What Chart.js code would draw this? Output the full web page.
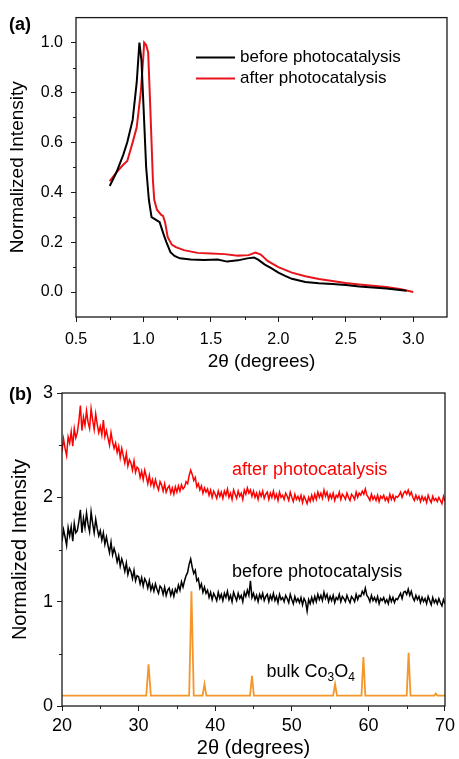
<!DOCTYPE html>
<html><head><meta charset="utf-8">
<script src="https://cdn.jsdelivr.net/npm/chart.js@4.4.1/dist/chart.umd.min.js"></script>
<style>
html,body{margin:0;padding:0;background:#fff;}
canvas{display:block;}
</style></head><body>
<canvas id="ca" width="459" height="378"></canvas>
<canvas id="cb" width="459" height="381"></canvas>
<script>
// ---------- Panel (a) data ----------
const aBeforeX = [0.75,0.80,0.85,0.88,0.92,0.95,0.97,0.985,1.00,1.02,1.04,1.06,1.09,1.12,1.15,1.17,1.20,1.23,1.27,1.35,1.45,1.55,1.62,1.70,1.77,1.82,1.85,1.90,1.95,2.00,2.05,2.10,2.20,2.30,2.40,2.50,2.60,2.70,2.80,2.90,2.95];
const aBeforeY = [0.425,0.48,0.55,0.60,0.69,0.84,1.00,0.93,0.75,0.50,0.37,0.30,0.29,0.28,0.23,0.20,0.16,0.145,0.135,0.13,0.128,0.13,0.122,0.127,0.135,0.138,0.13,0.11,0.095,0.078,0.065,0.053,0.04,0.035,0.032,0.028,0.022,0.018,0.014,0.008,0.005];
const aAfterX = [0.75,0.80,0.85,0.88,0.92,0.95,0.98,1.00,1.005,1.02,1.035,1.05,1.07,1.08,1.10,1.13,1.145,1.16,1.18,1.21,1.24,1.30,1.40,1.50,1.60,1.70,1.78,1.83,1.87,1.92,2.00,2.10,2.20,2.30,2.40,2.50,2.60,2.70,2.80,2.90,3.00];
const aAfterY = [0.445,0.48,0.51,0.525,0.60,0.66,0.80,0.95,1.00,0.99,0.96,0.75,0.45,0.37,0.33,0.31,0.305,0.28,0.22,0.19,0.18,0.168,0.157,0.155,0.152,0.146,0.148,0.158,0.15,0.125,0.10,0.078,0.063,0.052,0.044,0.036,0.03,0.025,0.02,0.012,0.0];
const aXTicks = [0.5,1.0,1.5,2.0,2.5,3.0];
const aXTickLabels = ['0.5','1.0','1.5','2.0','2.5','3.0'];
const aXMinor = [0.75,1.25,1.75,2.25,2.75];
const aYTicks = [0.0,0.2,0.4,0.6,0.8,1.0];
const aYTickLabels = ['0.0','0.2','0.4','0.6','0.8','1.0'];
const aYMinor = [0.1,0.3,0.5,0.7,0.9];

// ---------- Panel (b) data ----------
const bStart = 20, bStep = 0.2;   // sampling grid of the measured patterns (20.0 ... 70.0)
const bAfter = [
2.44,2.56,2.47,2.40,2.58, 2.52,2.63,2.49,2.66,2.57, 2.62,2.73,2.88,2.64,2.77, 2.69,2.83,2.72,2.66,2.85,
2.74,2.65,2.80,2.70,2.62, 2.68,2.60,2.74,2.58,2.64, 2.57,2.50,2.62,2.53,2.47, 2.52,2.43,2.49,2.38,2.47,
2.40,2.33,2.42,2.30,2.36, 2.33,2.26,2.35,2.24,2.29, 2.27,2.19,2.25,2.17,2.26, 2.20,2.13,2.21,2.12,2.17,
2.10,2.17,2.11,2.07,2.15, 2.12,2.06,2.13,2.05,2.09, 2.11,2.04,2.09,2.03,2.10, 2.05,2.11,2.06,2.12,2.08,
2.10,2.15,2.13,2.21,2.26, 2.22,2.16,2.19,2.10,2.13, 2.07,2.11,2.04,2.09,2.05, 2.08,2.02,2.07,2.00,2.06,
2.03,1.99,2.06,2.01,2.05, 1.99,2.06,2.02,2.08,2.00, 2.04,1.98,2.07,2.03,1.99, 2.06,2.01,2.04,1.98,2.07,
2.03,2.09,2.04,2.07,2.01, 2.06,2.00,2.04,1.98,2.05, 2.01,2.06,1.99,2.03,2.05, 1.98,2.04,2.00,2.06,1.99,
2.03,1.97,2.05,2.00,2.02, 1.98,2.04,2.01,1.97,2.05, 2.00,1.96,2.03,1.98,2.01, 1.97,2.02,1.95,2.01,1.98,
1.94,2.00,1.96,2.02,1.97, 2.03,1.98,2.05,2.00,2.04, 1.99,2.07,2.01,2.05,1.98, 2.03,1.99,2.04,1.97,2.02,
2.00,2.05,1.98,2.03,2.01, 1.98,2.04,2.00,1.97,2.03, 2.01,1.98,2.05,2.00,2.04, 2.02,2.06,2.03,2.08,2.02,
2.00,1.97,2.03,1.98,2.01, 1.97,2.02,1.96,2.01,1.99, 2.02,1.97,2.00,1.96,2.03, 1.98,2.02,1.97,2.01,2.00,
2.02,2.05,2.00,2.04,2.06, 2.03,2.07,2.02,2.05,2.00, 1.97,2.02,1.98,2.01,1.96, 2.01,1.97,2.00,1.95,2.02,
1.98,1.95,2.01,1.97,1.99, 1.96,2.00,1.97,1.94,2.01, 1.96];
const bBefore = [
1.58,1.69,1.62,1.54,1.71, 1.63,1.72,1.58,1.75,1.66, 1.68,1.77,1.88,1.66,1.80, 1.71,1.85,1.74,1.67,1.86,
1.75,1.66,1.79,1.70,1.63, 1.68,1.59,1.66,1.55,1.62, 1.54,1.47,1.57,1.45,1.51, 1.46,1.38,1.44,1.34,1.41,
1.36,1.29,1.37,1.26,1.32, 1.29,1.22,1.30,1.20,1.25, 1.24,1.17,1.23,1.15,1.22, 1.19,1.13,1.20,1.11,1.16,
1.10,1.17,1.12,1.08,1.15, 1.13,1.07,1.14,1.06,1.11, 1.13,1.06,1.11,1.05,1.12, 1.09,1.16,1.11,1.19,1.14,
1.20,1.25,1.28,1.36,1.41, 1.33,1.27,1.30,1.20,1.22, 1.13,1.17,1.09,1.14,1.08, 1.11,1.04,1.09,1.02,1.08,
1.05,1.01,1.09,1.03,1.07, 1.01,1.08,1.04,1.10,1.02, 1.06,1.00,1.09,1.05,1.01, 1.08,1.03,1.06,1.00,1.09,
1.05,1.11,1.06,1.20,1.04, 1.08,1.02,1.06,1.00,1.07, 1.03,1.08,1.01,1.05,1.07, 1.00,1.06,1.02,1.08,1.01,
1.05,0.99,1.07,1.02,1.04, 1.00,1.06,1.03,0.99,1.07, 1.02,0.98,1.05,1.00,1.03, 0.99,1.04,0.97,1.03,1.00,
0.91,1.02,0.98,1.04,0.99, 1.05,1.00,1.07,1.02,1.06, 1.01,1.09,1.03,1.07,1.00, 1.05,1.01,1.06,0.99,1.04,
1.02,1.07,1.00,1.05,1.03, 1.00,1.06,1.02,0.99,1.05, 1.03,1.00,1.07,1.02,1.06, 1.05,1.10,1.07,1.13,1.06,
1.04,1.00,1.06,1.01,1.04, 1.00,1.05,0.98,1.03,1.01, 1.04,0.99,1.02,0.98,1.05, 1.00,1.04,0.99,1.03,1.02,
1.05,1.08,1.03,1.09,1.10, 1.07,1.12,1.06,1.10,1.04, 1.01,1.06,1.02,1.05,0.99, 1.04,1.00,1.03,0.98,1.05,
1.01,0.97,1.04,0.99,1.02, 0.98,1.03,0.99,0.96,1.02, 0.98];
const bulkX = [20,31.0,31.3,31.6,36.6,36.9,37.2,38.35,38.6,38.85,44.55,44.8,45.05,55.4,55.65,55.9,59.1,59.35,59.6,65.0,65.25,65.5,68.6,68.8,69.0,70];
const bulkY = [0.1,0.1,0.4,0.1,0.1,1.1,0.1,0.1,0.21,0.1,0.1,0.29,0.1,0.1,0.21,0.1,0.1,0.47,0.1,0.1,0.51,0.1,0.1,0.12,0.1,0.1];
const bXTicks = [20,30,40,50,60,70];
const bXTickLabels = ['20','30','40','50','60','70'];
const bXMinor = [25,35,45,55,65];
const bYTicks = [0,1,2,3];
const bYTickLabels = ['0','1','2','3'];
const bYMinor = [0.5,1.5,2.5];

const FONT = "'Liberation Sans', Arial, Helvetica, sans-serif";
const pairs = (xs, ys) => xs.map((x, i) => ({x, y: ys[i]}));
const grid = (x0, step, n) => { const a = []; for (let i = 0; i < n; i++) a.push(Math.round((x0 + i * step) * 100) / 100); return a; };

const framePlugin = {
  id: 'frame',
  afterDraw(chart, args, o) {
    const {ctx, chartArea: a} = chart;
    const xs = chart.scales.x, ys = chart.scales.y;
    ctx.save();
    ctx.strokeStyle = '#1a1a1a';
    ctx.lineWidth = 1.3;
    ctx.strokeRect(a.left, a.top, a.right - a.left, a.bottom - a.top);
    ctx.lineWidth = 1;
    (o.xMinor || []).forEach(v => { const p = Math.round(xs.getPixelForValue(v)) + 0.5; ctx.beginPath(); ctx.moveTo(p, a.bottom); ctx.lineTo(p, a.bottom + 3); ctx.stroke(); });
    (o.yMinor || []).forEach(v => { const p = Math.round(ys.getPixelForValue(v)) + 0.5; ctx.beginPath(); ctx.moveTo(a.left, p); ctx.lineTo(a.left - 3, p); ctx.stroke(); });
    ctx.fillStyle = '#000';
    ctx.font = 'bold 18px ' + FONT;
    ctx.textBaseline = 'middle';
    ctx.textAlign = 'left';
    ctx.fillText(o.panel, 9, o.panelY);
    (o.legend || []).forEach(l => {
      ctx.strokeStyle = l.color; ctx.lineWidth = 2;
      ctx.beginPath(); ctx.moveTo(a.left + l.dx, a.top + l.dy); ctx.lineTo(a.left + l.dx + 39, a.top + l.dy); ctx.stroke();
      ctx.fillStyle = '#000'; ctx.font = '17px ' + FONT;
      ctx.fillText(l.text, a.left + l.dx + 44, a.top + l.dy);
    });
    (o.labels || []).forEach(l => {
      let x = xs.getPixelForValue(l.x), y = ys.getPixelForValue(l.y);
      ctx.fillStyle = l.color;
      l.parts.forEach(p => {
        ctx.font = (p.sub ? '12px ' : '18px ') + FONT;
        ctx.fillText(p.t, x, y + (p.sub ? 6 : 0));
        x += ctx.measureText(p.t).width;
      });
    });
    ctx.restore();
  }
};

function axisCommon(ticks, labels, size, pad) {
  return {
    afterBuildTicks: s => { s.ticks = ticks.map(v => ({value: v})); },
    ticks: { callback: (v, i) => labels[i], font: {family: FONT, size: size}, color: '#000', padding: pad, maxRotation: 0, autoSkip: false },
    grid: { drawOnChartArea: false, drawTicks: true, tickLength: 5, tickColor: '#1a1a1a', tickWidth: 1 },
    border: { display: false }
  };
}

// ---------- Chart (a) ----------
new Chart(document.getElementById('ca'), {
  type: 'line',
  data: { datasets: [
    { label: 'before photocatalysis', data: pairs(aBeforeX, aBeforeY), borderColor: '#000', borderWidth: 2, pointRadius: 0, tension: 0 },
    { label: 'after photocatalysis', data: pairs(aAfterX, aAfterY), borderColor: '#e8141b', borderWidth: 2, pointRadius: 0, tension: 0 }
  ]},
  options: {
    responsive: false, animation: false, devicePixelRatio: 1,
    layout: { padding: { top: 17, right: 12, left: 0, bottom: 0 } },
    plugins: { legend: { display: false }, tooltip: { enabled: false },
      frame: { panel: '(a)', panelY: 25, xMinor: aXMinor, yMinor: aYMinor,
        legend: [ { text: 'before photocatalysis', color: '#000', dx: 120, dy: 40 },
                  { text: 'after photocatalysis', color: '#e8141b', dx: 120, dy: 61 } ] } },
    scales: {
      x: Object.assign(axisCommon(aXTicks, aXTickLabels, 16, 8), { type: 'linear', min: 0.5, max: 3.25,
        afterFit: s => { s.height = 61; },
        title: { display: true, text: '2θ (degrees)', font: {family: FONT, size: 19, lineHeight: 1}, color: '#000', padding: {top: 0, bottom: 6.5} } }),
      y: Object.assign(axisCommon(aYTicks, aYTickLabels, 16, 8), { type: 'linear', min: -0.1, max: 1.1,
        afterFit: s => { s.width = 76; },
        title: { display: true, text: 'Normalized Intensity', font: {family: FONT, size: 19, lineHeight: 1}, color: '#000', padding: {top: 8.5, bottom: 0} } })
    }
  },
  plugins: [framePlugin]
});

// ---------- Chart (b) ----------
const bX = grid(bStart, bStep, bAfter.length);
new Chart(document.getElementById('cb'), {
  type: 'line',
  data: { datasets: [
    { label: 'after photocatalysis', data: pairs(bX, bAfter), borderColor: '#ff0000', borderWidth: 1.5, pointRadius: 0, tension: 0 },
    { label: 'before photocatalysis', data: pairs(bX, bBefore), borderColor: '#000', borderWidth: 1.5, pointRadius: 0, tension: 0 },
    { label: 'bulk Co3O4', data: pairs(bulkX, bulkY), borderColor: '#f5962a', borderWidth: 1.8, pointRadius: 0, tension: 0 }
  ]},
  options: {
    responsive: false, animation: false, devicePixelRatio: 1,
    layout: { padding: { top: 15, right: 11, left: 0, bottom: 0 } },
    plugins: { legend: { display: false }, tooltip: { enabled: false },
      frame: { panel: '(b)', panelY: 17, xMinor: bXMinor, yMinor: bYMinor,
        labels: [
          { x: 42.2, y: 2.26, color: '#ff0000', parts: [{t: 'after photocatalysis'}] },
          { x: 42.2, y: 1.28, color: '#000', parts: [{t: 'before photocatalysis'}] },
          { x: 46.7, y: 0.33, color: '#000', parts: [{t: 'bulk Co'}, {t: '3', sub: true}, {t: 'O'}, {t: '4', sub: true}] }
        ] } },
    scales: {
      x: Object.assign(axisCommon(bXTicks, bXTickLabels, 18, 4), { type: 'linear', min: 20, max: 70,
        afterFit: s => { s.height = 53; },
        title: { display: true, text: '2θ (degrees)', font: {family: FONT, size: 20, lineHeight: 1}, color: '#000', padding: {top: 0, bottom: 1} } }),
      y: Object.assign(axisCommon(bYTicks, bYTickLabels, 18, 4), { type: 'linear', min: 0, max: 3,
        afterFit: s => { s.width = 62; },
        title: { display: true, text: 'Normalized Intensity', font: {family: FONT, size: 20, lineHeight: 1}, color: '#000', padding: {top: 10, bottom: 0} } })
    }
  },
  plugins: [framePlugin]
});
</script>
</body></html>
